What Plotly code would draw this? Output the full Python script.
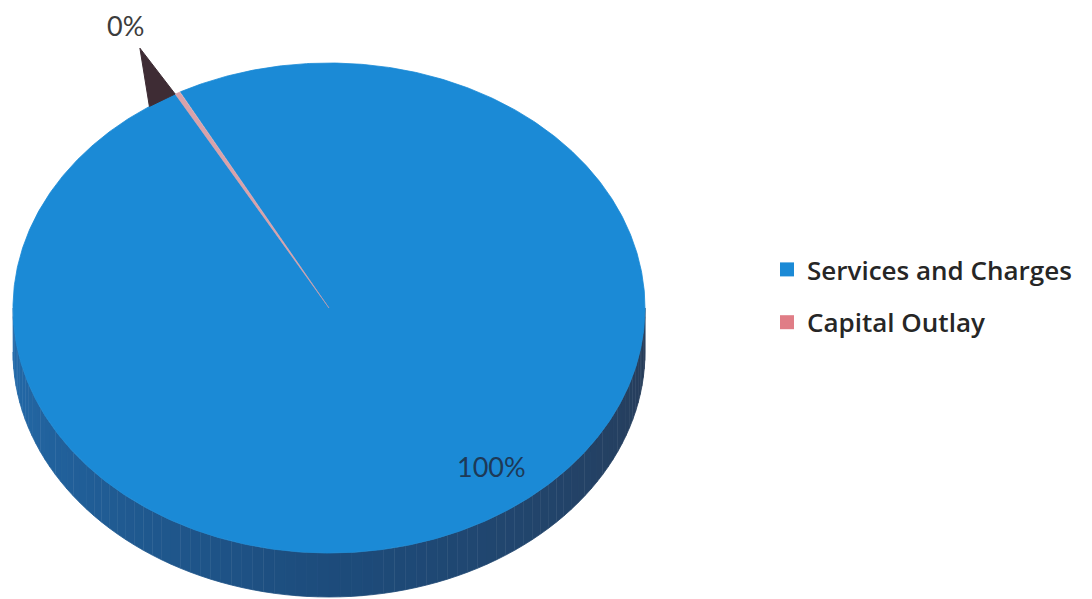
import numpy as np
import plotly.graph_objects as go

# ---- data ----
categories = ["Services and Charges", "Capital Outlay"]
values = [99.7, 0.3]
slice_colors = ["#1b8ad6", "#e07d86"]

# ---- geometry / style (pixel space of the page) ----
W, H = 1092, 599
OFF = 8                    # page body margin
cx, cy = 329, 308          # centre of top face
ra, rb = 316, 245          # semi-axes of top face
depth = 44                 # visible thickness of the pie
t_capital = 118.6          # angle (deg) of the small slice's mid line
explode_len = 56
wall_span = 5.5

total = sum(values)
w_cap = 360.0 * values[1] / total


def ell(t_deg, dy=0.0):
    t = np.radians(t_deg)
    return cx + ra * np.cos(t), cy - rb * np.sin(t) + dy


fig = go.Figure()

# side wall (front half), shaded strips
n = 90
ts = np.linspace(180, 360, n + 1)
c0 = np.array([36, 108, 172])
c1 = np.array([29, 76, 124])
c2 = np.array([40, 60, 88])
for i in range(n):
    a0, a1 = ts[i], ts[i + 1]
    seg = np.linspace(a0, a1, 4)
    xs_top, ys_top = ell(seg)
    xs_bot, ys_bot = ell(seg[::-1], depth)
    m = (a0 + a1) / 2
    if m <= 270:
        f = (m - 180) / 90
        col = c0 + (c1 - c0) * f
    else:
        f = (m - 270) / 90
        col = c1 + (c2 - c1) * f
    cs = "rgb(%d,%d,%d)" % tuple(col.astype(int))
    fig.add_trace(go.Scatter(
        x=np.concatenate([xs_top, xs_bot]), y=np.concatenate([ys_top, ys_bot]),
        fill="toself", fillcolor=cs, mode="lines", line=dict(color=cs, width=0.8),
        hoverinfo="skip", showlegend=False))

# top face: services slice
start = t_capital + w_cap / 2
arc = np.linspace(start, start + 360 - w_cap, 720)
ax_, ay_ = ell(arc)
fig.add_trace(go.Scatter(
    x=np.concatenate([[cx], ax_, [cx]]), y=np.concatenate([[cy], ay_, [cy]]),
    fill="toself", fillcolor=slice_colors[0], mode="lines",
    line=dict(color=slice_colors[0], width=0.8), hoverinfo="skip", showlegend=False))

# top face: capital outlay slice (thin wedge)
arc2 = np.linspace(t_capital - w_cap / 2, t_capital + w_cap / 2, 10)
bx, by = ell(arc2)
fig.add_trace(go.Scatter(
    x=np.concatenate([[cx], bx, [cx]]), y=np.concatenate([[cy], by, [cy]]),
    fill="toself", fillcolor="#d9a2aa", mode="lines", line=dict(color="#d9a2aa", width=0.5),
    hoverinfo="skip", showlegend=False))

# exploded small slice side (dark wedge)
p1x, p1y = ell(t_capital + w_cap / 2)
p2x, p2y = ell(t_capital + w_cap / 2 + wall_span)
tr = np.radians(t_capital)
ux, uy = ra * np.cos(tr), -rb * np.sin(tr)
nrm = np.hypot(ux, uy)
tipx, tipy = p1x + explode_len * ux / nrm - 3, p1y + explode_len * uy / nrm
fig.add_trace(go.Scatter(
    x=[p1x, tipx, p2x, p1x], y=[p1y, tipy, p2y, p1y],
    fill="toself", fillcolor="#3e2c34", mode="lines", line=dict(color="#3e2c34", width=1),
    hoverinfo="skip", showlegend=False))

# legend entries
for i, (name, col) in enumerate(zip(categories, slice_colors)):
    fig.add_trace(go.Scatter(
        x=[None], y=[None], mode="markers", name=name, legendgroup=str(i),
        marker=dict(symbol="square", size=14, color=col)))

# percentage labels
pct = [f"{round(100 * v / total)}%" for v in values]
fig.add_annotation(x=491, y=466, text=pct[0], showarrow=False,
                   font=dict(family="Lato", size=27, color="#1d3957"))
fig.add_annotation(x=125, y=25, text=pct[1], showarrow=False,
                   font=dict(family="Lato", size=27, color="#3c3c3c"))

fig.update_layout(
    width=W, height=H, margin=dict(l=0, r=0, t=0, b=0),
    paper_bgcolor="white", plot_bgcolor="white",
    xaxis=dict(range=[OFF, W + OFF], visible=False, fixedrange=True),
    yaxis=dict(range=[H + OFF, OFF], visible=False, fixedrange=True),
    showlegend=True,
    legend=dict(x=(767 - OFF) / W, y=1 - (296 - OFF) / H, xanchor="left", yanchor="middle",
                font=dict(family="Open Sans", size=26, color="#262626", weight=600),
                tracegroupgap=16, bgcolor="rgba(0,0,0,0)"),
)

fig.write_html("out.html")
